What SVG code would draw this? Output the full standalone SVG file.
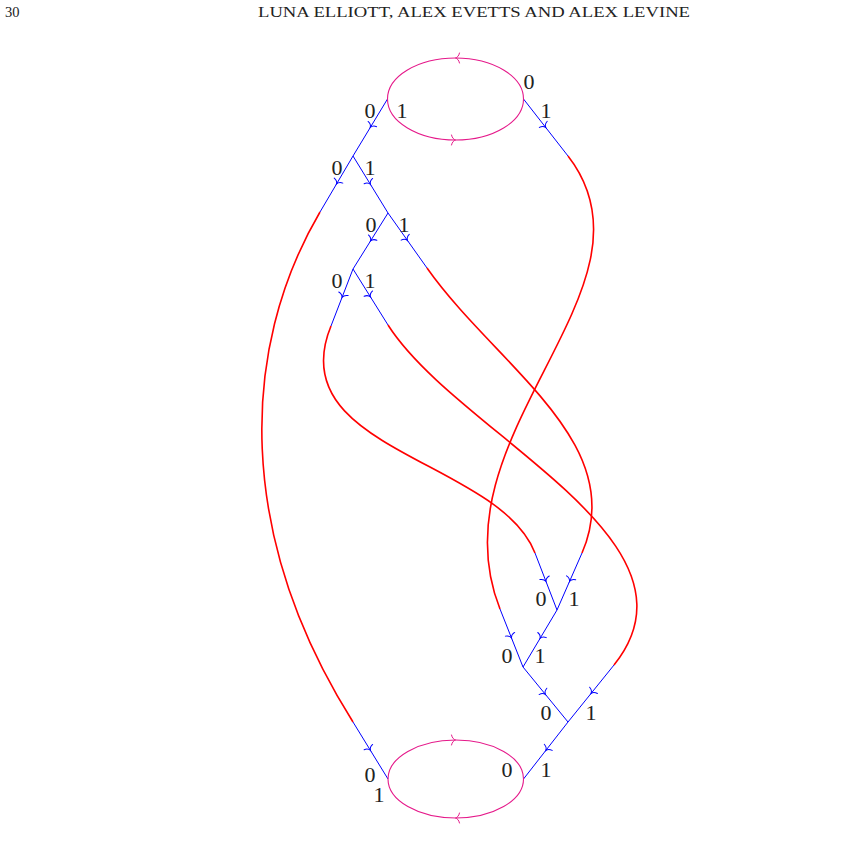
<svg xmlns="http://www.w3.org/2000/svg" xmlns:xlink="http://www.w3.org/1999/xlink" width="858" height="859" viewBox="0 0 858 859">
<style>
  .hdr { font-family: "Liberation Serif", "DejaVu Serif", serif; font-size: 14.5px; fill: #222; }
  .lbl { font-family: "Liberation Serif", "DejaVu Serif", serif; font-size: 22px; fill: #222; text-anchor: middle; }
  .blue { stroke: #0000ff; stroke-width: 1; fill: none; marker-mid: url(#arrB); }
  .red { stroke: #ff0000; stroke-width: 1.6; fill: none; }
  .loop { stroke: #e5198a; stroke-width: 1.1; fill: none; }
  .tip { fill: none; stroke-width: 1; stroke-linecap: round; }
</style>
<defs>
  <path id="tipShape" d="M -4,-5 C -3.5,-2 -1.4,-0.4 0,0 C -1.4,0.4 -3.5,2 -4,5"/>
  <marker id="arrB" markerUnits="userSpaceOnUse" orient="auto" refX="0" refY="0" markerWidth="12" markerHeight="12" viewBox="-6 -6 12 12" overflow="visible">
    <path d="M -4,-5 C -3.5,-2 -1.4,-0.4 0,0 C -1.4,0.4 -3.5,2 -4,5" fill="none" stroke="#0000ff" stroke-width="1" stroke-linecap="round"/>
  </marker>
</defs>

<rect width="858" height="859" fill="#ffffff"/>

<text class="hdr" x="5" y="17">30</text>
<text class="hdr" x="474" y="17" text-anchor="middle" textLength="432" lengthAdjust="spacingAndGlyphs">LUNA ELLIOTT, ALEX EVETTS AND ALEX LEVINE</text>

<g id="connectors">
  <path class="blue" d="M 387.5,99 L 370.25,127.5 L 353,156"/>
  <path class="blue" d="M 523.5,99 L 545.75,127.5 L 568,156"/>
  <path class="blue" d="M 353,156 L 336.5,184 L 320,212"/>
  <path class="blue" d="M 353,156 L 370.5,184.5 L 388,213"/>
  <path class="blue" d="M 388,213 L 370.5,241 L 353,269"/>
  <path class="blue" d="M 388,213 L 407.5,240.5 L 427,268"/>
  <path class="blue" d="M 353,269 L 342,297.5 L 331,326"/>
  <path class="blue" d="M 353,269 L 370.5,297 L 388,325"/>

  <path class="blue" d="M 535,553 L 546,581.5 L 557,610"/>
  <path class="blue" d="M 582,553 L 569.5,581.5 L 557,610"/>
  <path class="blue" d="M 500,609 L 511.5,638 L 523,667"/>
  <path class="blue" d="M 557,610 L 540,638.5 L 523,667"/>
  <path class="blue" d="M 523,667 L 545.5,694.5 L 568,722"/>
  <path class="blue" d="M 614,665 L 591,693.5 L 568,722"/>
  <path class="blue" d="M 568,722 L 545.75,750.5 L 523.5,779"/>
  <path class="blue" d="M 353,722 L 370.5,750.5 L 388,779"/>

  <path class="red" d="M 320,212 C 239,350 236,536 353,722"/>
  <path class="red" d="M 568,156 C 670,287 431,435 500,609"/>
  <path class="red" d="M 427,268 C 496,366 630,443 582,553"/>
  <path class="red" d="M 331,326 C 280,450 499,460 535,553"/>
  <path class="red" d="M 388,325 C 458,435 714,540 614,665"/>
</g>

<g id="loop-top">
  <ellipse class="loop" cx="455.5" cy="99" rx="68" ry="41"/>
  <use xlink:href="#tipShape" class="tip" stroke="#e5198a" transform="translate(455.5,58) rotate(180)"/>
  <use xlink:href="#tipShape" class="tip" stroke="#e5198a" transform="translate(455.5,140)"/>
  <text class="lbl" x="529" y="89">0</text>
  <text class="lbl" x="546" y="118">1</text>
  <text class="lbl" x="370" y="118">0</text>
  <text class="lbl" x="402" y="118">1</text>
</g>

<g id="node-a">
  <text class="lbl" x="337" y="175">0</text>
  <text class="lbl" x="370" y="175">1</text>
</g>
<g id="node-b">
  <text class="lbl" x="371" y="232">0</text>
  <text class="lbl" x="404" y="232">1</text>
</g>
<g id="node-c">
  <text class="lbl" x="337" y="288">0</text>
  <text class="lbl" x="370" y="288">1</text>
</g>
<g id="node-d">
  <text class="lbl" x="541" y="606">0</text>
  <text class="lbl" x="574" y="606">1</text>
</g>
<g id="node-e">
  <text class="lbl" x="507" y="663">0</text>
  <text class="lbl" x="540" y="663">1</text>
</g>
<g id="node-f">
  <text class="lbl" x="546" y="720">0</text>
  <text class="lbl" x="591" y="720">1</text>
</g>

<g id="loop-bottom">
  <ellipse class="loop" cx="455.75" cy="779" rx="67.75" ry="39"/>
  <use xlink:href="#tipShape" class="tip" stroke="#e5198a" transform="translate(455.5,740)"/>
  <use xlink:href="#tipShape" class="tip" stroke="#e5198a" transform="translate(455.5,818) rotate(180)"/>
  <text class="lbl" x="507" y="777">0</text>
  <text class="lbl" x="546" y="777">1</text>
  <text class="lbl" x="370" y="782">0</text>
  <text class="lbl" x="379" y="802">1</text>
</g>
</svg>
